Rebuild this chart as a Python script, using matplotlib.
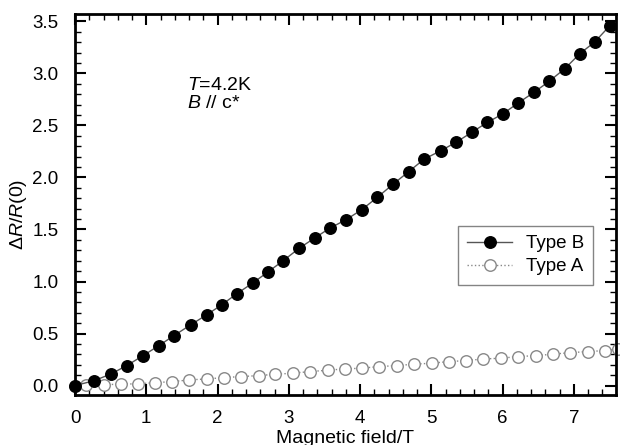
import matplotlib
matplotlib.use("Agg")
import matplotlib.pyplot as plt
from matplotlib.ticker import MultipleLocator

plt.rcParams['font.family'] = ['Liberation Sans', 'DejaVu Sans']
plt.rcParams['mathtext.fontset'] = 'custom'
plt.rcParams['mathtext.rm'] = 'Liberation Sans'
plt.rcParams['mathtext.it'] = 'Liberation Sans:italic'

# Type B (filled circles)
field_b = [0, 0.27, 0.505, 0.725, 0.95, 1.178, 1.389, 1.623, 1.847, 2.058, 2.268,
           2.492, 2.703, 2.921, 3.146, 3.366, 3.576, 3.80, 4.021, 4.24, 4.464,
           4.684, 4.899, 5.129, 5.343, 5.564, 5.783, 5.999, 6.217, 6.438, 6.652,
           6.872, 7.083, 7.293, 7.504]
dr_b = [0, 0.048, 0.112, 0.192, 0.286, 0.385, 0.481, 0.584, 0.680, 0.776, 0.882,
        0.985, 1.09, 1.20, 1.32, 1.42, 1.513, 1.593, 1.689, 1.808, 1.936,
        2.057, 2.176, 2.256, 2.336, 2.432, 2.528, 2.609, 2.715, 2.817, 2.923,
        3.045, 3.189, 3.302, 3.458]

# Type A (open circles)
field_a = [0, 0.154, 0.411, 0.641, 0.879, 1.122, 1.365, 1.603, 1.847, 2.09, 2.332,
           2.576, 2.809, 3.053, 3.296, 3.553, 3.787, 4.021, 4.264, 4.512, 4.754,
           5.003, 5.245, 5.484, 5.727, 5.975, 6.217, 6.461, 6.708, 6.952, 7.199,
           7.443, 7.616]
dr_a = [0, 0.007, 0.007, 0.016, 0.016, 0.029, 0.038, 0.055, 0.064, 0.077, 0.087,
        0.096, 0.109, 0.119, 0.135, 0.148, 0.161, 0.167, 0.183, 0.192, 0.206,
        0.215, 0.231, 0.240, 0.256, 0.263, 0.279, 0.288, 0.302, 0.317, 0.327,
        0.337, 0.35]

x_ticks = [0, 1, 2, 3, 4, 5, 6, 7]
y_ticks = [0.0, 0.5, 1.0, 1.5, 2.0, 2.5, 3.0, 3.5]

fig = plt.figure(figsize=(6.2, 4.45), dpi=100)
ax = fig.add_axes([0.121, 0.1124, 0.8725, 0.8561])

ax.plot(field_a, dr_a, linestyle=':', color='#888888', linewidth=1.0,
        marker='o', markersize=8.3, markerfacecolor='white',
        markeredgecolor='#888888', markeredgewidth=1.0, clip_on=False,
        label='Type A', zorder=2)
ax.plot(field_b, dr_b, linestyle='-', color='#555555', linewidth=1.0,
        marker='o', markersize=8.3, markerfacecolor='black',
        markeredgecolor='black', clip_on=False, label='Type B', zorder=3)

ax.set_xlim(0, 7.59)
ax.set_ylim(-0.09, 3.57)
ax.set_xticks(x_ticks)
ax.set_yticks(y_ticks)
ax.set_xticklabels([str(v) for v in x_ticks])
ax.set_yticklabels([f"{v:.1f}" for v in y_ticks])
ax.xaxis.set_minor_locator(MultipleLocator(0.2))
ax.yaxis.set_minor_locator(MultipleLocator(0.1))
ax.tick_params(which='both', direction='in', top=True, right=True,
               labelsize=13.5, width=1.5)
ax.tick_params(which='major', length=8)
ax.tick_params(axis='x', which='major', pad=11)
ax.tick_params(axis='y', which='major', pad=12)
ax.tick_params(which='minor', length=4, width=1.0)
for s in ax.spines.values():
    s.set_linewidth(2.0)

ax.set_xlabel('Magnetic field/T', fontsize=14)
ax.xaxis.label.set_va('center')
ax.xaxis.set_label_coords(0.5, -0.113)
ax.set_ylabel(r'$\Delta\mathit{R}/\mathit{R}$(0)', fontsize=14)
ax.yaxis.label.set_va('center')
ax.yaxis.set_label_coords(-0.105, 0.475)

ax.text(1.57, 2.965, r'$\mathit{T}$=4.2K' + '\n' + r'$\mathit{B}$ // c*',
        fontsize=14, va='top', ha='left', linespacing=1.1)

handles, labels = ax.get_legend_handles_labels()
leg = ax.legend(handles[::-1], labels[::-1], loc='upper left',
                bbox_to_anchor=(0.708, 0.4436), fontsize=13.5, frameon=True,
                fancybox=False, edgecolor='#666666', handlelength=2.4,
                borderpad=0.5, labelspacing=0.3, handletextpad=0.7,
                borderaxespad=0)
leg.get_frame().set_linewidth(1.0)

fig.savefig('out.png', dpi=100)
